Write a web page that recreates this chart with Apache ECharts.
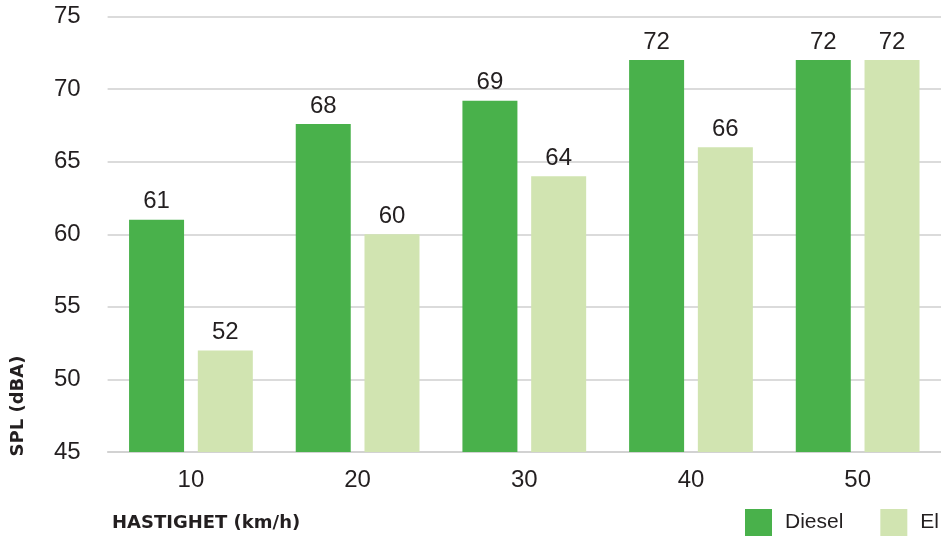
<!DOCTYPE html>
<html>
<head>
<meta charset="utf-8">
<script src="https://cdn.jsdelivr.net/npm/echarts@6/dist/echarts.min.js"></script>
<style>
  html, body { margin: 0; padding: 0; background: #fff; }
  #chart { width: 941px; height: 536px; }
</style>
</head>
<body>
<div id="chart"></div>
<script>
// Speed categories (km/h)
const speeds = ['10', '20', '30', '40', '50'];
// Sound pressure level per vehicle type (dBA)
const diesel = [61, 67.6, 69.2, 72, 72];
const el = [52, 60, 64, 66, 72];
// Value axis range
const yMin = 45, yMax = 75, yStep = 5;

const FONT = '"Liberation Sans", Arial, Helvetica, sans-serif';
const TITLE_FONT = '"DejaVu Sans", "Liberation Sans", sans-serif';
const TEXT = '#231f20';

const chart = echarts.init(document.getElementById('chart'));

const barLabel = {
  show: true,
  position: 'top',
  distance: 6,
  color: TEXT,
  fontFamily: FONT,
  fontSize: 24,
  formatter: p => Math.round(p.value)
};

chart.setOption({
  animation: false,
  textStyle: { fontFamily: FONT, color: TEXT },
  grid: { left: 107.6, right: 0, top: 16.5, bottom: 84, containLabel: false, outerBoundsMode: 'none' },
  graphic: [
    {
      type: 'text',
      x: 112,
      y: 523,
      style: {
        text: 'HASTIGHET (km/h)',
        fontFamily: TITLE_FONT,
        fontSize: 18,
        fontWeight: 'bold',
        fill: TEXT,
        textAlign: 'left',
        textVerticalAlign: 'middle'
      }
    },
    {
      type: 'text',
      x: 18,
      y: 406,
      rotation: Math.PI / 2,
      style: {
        text: 'SPL (dBA)',
        fontFamily: TITLE_FONT,
        fontSize: 18,
        fontWeight: 'bold',
        fill: TEXT,
        textAlign: 'center',
        textVerticalAlign: 'middle'
      }
    }
  ],
  legend: {
    right: 2,
    top: 509,
    padding: 0,
    itemWidth: 27,
    itemHeight: 27,
    itemGap: 37,
    icon: 'rect',
    textStyle: { fontFamily: FONT, fontSize: 21, color: TEXT, padding: [0, 0, 0, 8] },
    data: ['Diesel', 'El']
  },
  xAxis: {
    type: 'category',
    data: speeds,
    axisTick: { show: false },
    axisLine: { show: true, lineStyle: { color: '#cfcfcf', width: 1.5 } },
    axisLabel: { color: TEXT, fontFamily: FONT, fontSize: 24, margin: 16 }
  },
  yAxis: {
    type: 'value',
    min: yMin,
    max: yMax,
    interval: yStep,
    axisLine: { show: false },
    axisTick: { show: false },
    axisLabel: { color: TEXT, fontFamily: FONT, fontSize: 24, margin: 27 },
    splitLine: { lineStyle: { color: '#cfcfcf', width: 1.5 } }
  },
  series: [
    {
      name: 'Diesel',
      type: 'bar',
      data: diesel,
      barWidth: 55,
      barGap: '25%',
      itemStyle: { color: '#49b14b' },
      label: barLabel
    },
    {
      name: 'El',
      type: 'bar',
      data: el,
      barWidth: 55,
      itemStyle: { color: '#d1e4b1' },
      label: barLabel
    }
  ]
});
</script>
</body>
</html>
